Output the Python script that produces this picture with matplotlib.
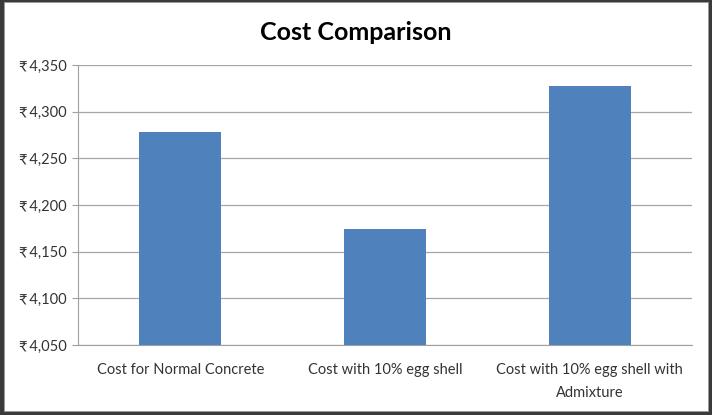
import matplotlib.pyplot as plt
from matplotlib.patches import Rectangle
from matplotlib.ticker import FuncFormatter

plt.rcParams['font.family'] = ['Lato', 'DejaVu Sans']

categories = ["Cost for Normal Concrete", "Cost with 10% egg shell",
              "Cost with 10% egg shell with\nAdmixture"]
costs = [4278, 4174, 4327]

W, H = 712, 415
fig = plt.figure(figsize=(W / 100, H / 100), dpi=100)
fig.patch.set_facecolor('#3a3a3a')

# white chart area inside a dark frame (thicker on left/right/bottom)
fig.patches.append(Rectangle((4 / W, 4 / H), (W - 8) / W, (H - 6) / H,
                             transform=fig.transFigure, facecolor='white',
                             edgecolor='#9a9a9a', linewidth=0.6, zorder=1))

ax = fig.add_axes([78 / W, 1 - 345 / H, 614 / W, 280 / H])
ax.set_zorder(2)
ax.patch.set_alpha(0)
x = range(len(categories))
ax.bar(x, costs, width=0.4, color='#4f81bd', zorder=3)
ax.set_xlim(-0.5, 2.5)
ax.set_ylim(4050, 4350)
ax.set_yticks(range(4050, 4351, 50))
ax.yaxis.set_major_formatter(FuncFormatter(lambda v, p: "\u20b9\u2009" + f"{v:,.0f}"))
ax.set_xticks(list(x))
ax.set_xticklabels(categories, fontsize=10.5, color='#333333', linespacing=1.85)
ax.tick_params(axis='y', labelsize=10.5, colors='#333333', length=4, color='#a0a0a0', pad=4)
ax.tick_params(axis='x', length=0, pad=13)
ax.grid(axis='y', color='#a6a6a6', linewidth=0.9, zorder=0)
for side in ['top', 'right']:
    ax.spines[side].set_visible(False)
ax.spines['left'].set_color('#a0a0a0')
ax.spines['bottom'].set_color('#a0a0a0')

fig.text(0.5, 1 - 32 / H, "Cost Comparison", ha='center', va='center',
         fontsize=18, fontweight='bold', color='black')

fig.savefig("out.png", dpi=100, facecolor=fig.get_facecolor())
